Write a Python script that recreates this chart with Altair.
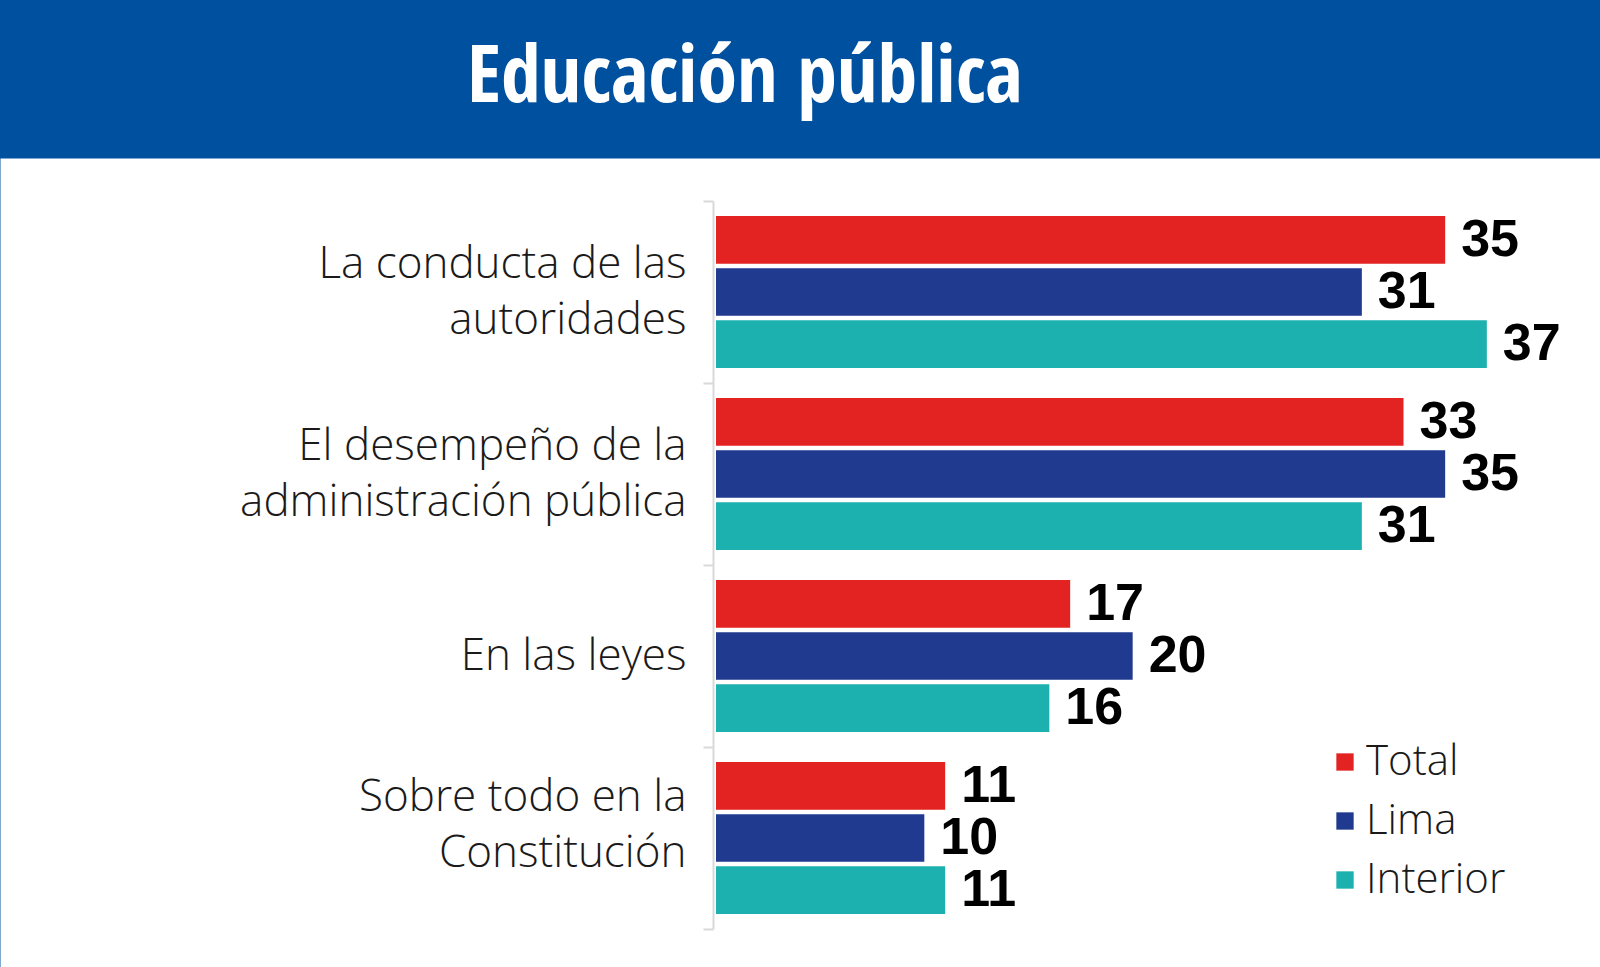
import altair as alt
import pandas as pd

# ---- data ----
categories = [
    "La conducta de las|autoridades",
    "El desempeño de la|administración pública",
    "En las leyes",
    "Sobre todo en la|Constitución",
]
series = ["Total", "Lima", "Interior"]
total = [35, 33, 17, 11]
lima = [31, 35, 20, 10]
interior = [37, 31, 16, 11]
colors = ["#E32322", "#1F3A8F", "#1CB0AE"]
title_text = "Educación pública"

rows = []
for i, c in enumerate(categories):
    for s, vals in zip(series, [total, lima, interior]):
        rows.append({"cat": c, "serie": s, "valor": vals[i]})
df = pd.DataFrame(rows)

W, H = 1600, 809

x = alt.X("valor:Q", scale=alt.Scale(domain=[0, 42], range=[716, 1591]), axis=None)
y = alt.Y(
    "cat:N",
    sort=categories,
    scale=alt.Scale(domain=categories, range=[43, 771], paddingInner=0, paddingOuter=0),
    axis=alt.Axis(
        title=None,
        orient="left",
        offset=-713,
        domainColor="#D9D9D9",
        domainWidth=2,
        tickColor="#D9D9D9",
        tickWidth=2,
        tickSize=10,
        tickBand="extent",
        grid=False,
        labelFont="Open Sans",
        labelFontWeight=300,
        labelFontSize=44,
        labelColor="#1a1a1a",
        labelLineHeight=56,
        labelPadding=17,
        labelAlign="right",
        labelBaseline="middle",
        labelLimit=700,
        labelOffset={
            "condition": [
                {"test": "indexof(datum.label, 'Sobre') >= 0", "value": -41},
                {"test": "indexof(datum.label, '|') >= 0", "value": -28},
            ],
            "value": 0,
        },
        labelExpr="split(datum.label, '|')",
    ),
)
yoff = alt.YOffset(
    "serie:N",
    sort=series,
    scale=alt.Scale(domain=series, paddingInner=0.087, paddingOuter=0.29),
)

bars = alt.Chart(df).mark_bar().encode(
    x=x,
    y=y,
    yOffset=yoff,
    color=alt.Color(
        "serie:N",
        sort=series,
        scale=alt.Scale(domain=series, range=colors),
        legend=alt.Legend(
            title=None,
            orient="none",
            legendX=1324,
            legendY=583,
            symbolType="square",
            symbolSize=300,
            symbolStrokeWidth=0,
            labelFont="Open Sans",
            labelFontWeight=300,
            labelFontSize=42,
            labelColor="#1a1a1a",
            labelOffset=0,
            rowPadding=17,
            padding=0,
        ),
    ),
)

labels = alt.Chart(df).mark_text(
    align="left",
    baseline="middle",
    dx=16,
    font="Liberation Sans",
    fontWeight="bold",
    fontSize=52,
    color="black",
).encode(x=x, y=y, yOffset=yoff, text="valor:Q")

chart = (
    alt.layer(bars, labels)
    .properties(
        width=W,
        height=H,
        autosize=alt.AutoSizeParams(type="none"),
        padding={"left": 0, "top": 158, "right": 0, "bottom": 0},
        background="#0050A0",
        title=alt.TitleParams(
            title_text,
            anchor="start",
            frame="group",
            dx=467,
            dy=104,
            offset=58,
            baseline="alphabetic",
            color="white",
            font="Open Sans Condensed, Liberation Sans Narrow, DejaVu Sans Condensed, sans-serif",
            fontWeight="bold",
            fontSize=80,
        ),
    )
    .configure_view(fill="white", stroke="transparent")
)

chart.save("out.html", embed_options={"renderer": "svg", "actions": False})
